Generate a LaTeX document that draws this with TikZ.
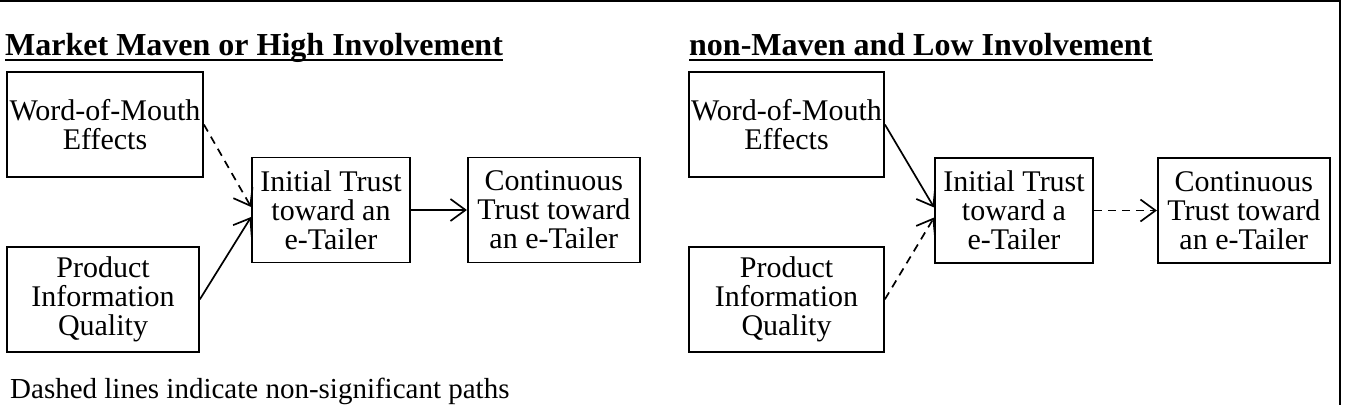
\documentclass[tikz,border=0pt]{standalone}
\usepackage{fontspec}
\setmainfont{Liberation Serif}
\usetikzlibrary{arrows.meta,positioning}

\begin{document}
\begin{tikzpicture}[
  x=1pt, y=1pt,
  box/.style={rectangle, draw, line width=1.8pt, inner sep=0pt,
    minimum height=105pt, align=center,
    font=\fontsize{30}{29}\selectfont},
  arw/.style={-{Straight Barb[length=15pt,width=22pt,line width=1.7pt]}, line width=1.7pt},
  ns/.style={dash pattern=on 8pt off 6pt},
  head/.style={anchor=base west, inner sep=0pt, font=\fontsize{32}{32}\selectfont\bfseries},
  uline/.style={line width=1.8pt},
]
  \useasboundingbox (0,0) rectangle (1345,-405);
  \draw[line width=1.8pt] (0,-1) -- (1340,-1) -- (1340,-405);

  % high involvement group
  \node[head] (ttlA) at (5,-55) {Market Maven or High Involvement};
  \draw[uline] ([yshift=-5pt]ttlA.base west) -- ([yshift=-5pt]ttlA.base east);
  \node[box, minimum width=196pt] (womA) at (105,-124.5) {Word-of-Mouth\\Effects};
  \node[box, minimum width=192pt, below=68pt of womA.south west, anchor=north west] (piqA)
    {Product\\Information\\Quality};
  \node[box, minimum width=158pt] (itA) at (331,-210) {Initial Trust\\toward an\\e-Tailer};
  \node[box, minimum width=172pt, right=56pt of itA] (ctA) {Continuous\\Trust toward\\an e-Tailer};

  % low involvement group
  \node[head] (ttlB) at (689,-55) {non-Maven and Low Involvement};
  \draw[uline] ([yshift=-5pt]ttlB.base west) -- ([yshift=-5pt]ttlB.base east);
  \node[box, minimum width=195pt] (womB) at (786.5,-124.5) {Word-of-Mouth\\Effects};
  \node[box, minimum width=195pt, below=68pt of womB] (piqB)
    {Product\\Information\\Quality};
  \node[box, minimum width=158pt] (itB) at (1014,-210.5) {Initial Trust\\toward a\\e-Tailer};
  \node[box, minimum width=172pt, right=63pt of itB] (ctB) {Continuous\\Trust toward\\an e-Tailer};

  \draw[arw, ns] (womA.east) -- ([yshift=3pt]itA.west);
  \draw[arw] (piqA.east) -- ([yshift=-7pt]itA.west);
  \draw[arw] (itA) -- (ctA);
  \draw[arw] (womB.east) -- ([yshift=3pt]itB.west);
  \draw[arw, ns] (piqB.east) -- ([yshift=-7pt]itB.west);
  \draw[arw, ns] (itB) -- (ctB);

  \node[anchor=base west, inner sep=0pt, font=\fontsize{29}{29}\selectfont] (note)
    at (10,-398) {Dashed lines indicate non-significant paths};
\end{tikzpicture}
\end{document}
